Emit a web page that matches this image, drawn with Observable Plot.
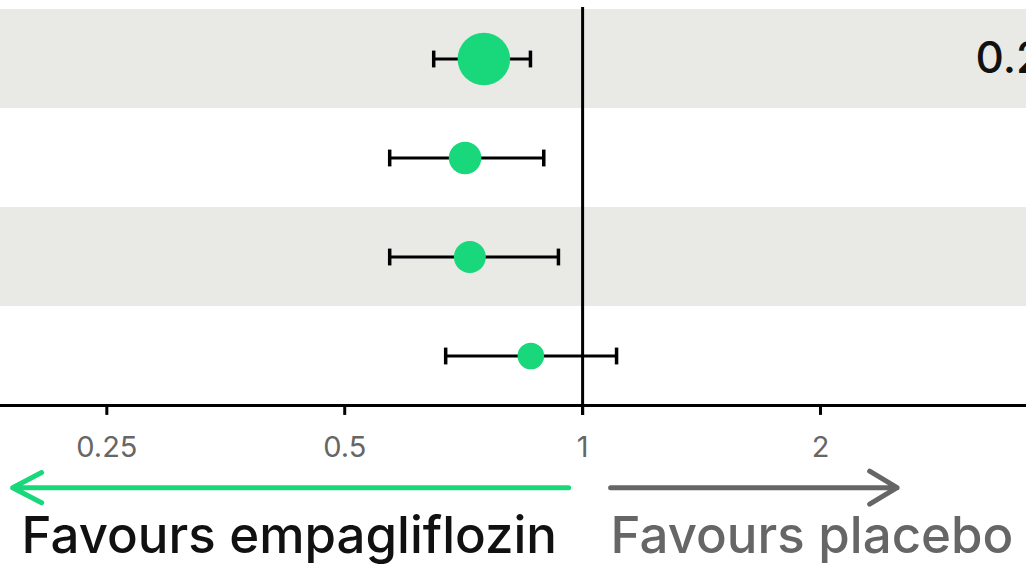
<!DOCTYPE html>
<html>
<head>
<meta charset="utf-8">
<script src="https://cdn.jsdelivr.net/npm/d3@7"></script>
<script src="https://cdn.jsdelivr.net/npm/@observablehq/plot@0.6"></script>
<style>
  html, body { margin: 0; padding: 0; background: #ffffff; }
  #chart svg { display: block; }
</style>
</head>
<body>
<div id="chart"></div>
<script>
// Data (hazard ratios on a log scale)
const rows = [0, 1, 2, 3];
const hr = [0.75, 0.71, 0.72, 0.86];
const lower = [0.648, 0.570, 0.570, 0.671];
const upper = [0.859, 0.893, 0.932, 1.104];
const weight = [49.0, 18.8, 18.1, 12.5];
const rightText = ["0.2", "", "", ""];
const tickValues = [0.25, 0.5, 1, 2];
const tickLabels = ["0.25", "0.5", "1", "2"];
const favourLabels = ["Favours empagliflozin", "Favours placebo"];
const favourColors = ["#111111", "#666666"];

const GREEN = "#18d87b";
const FONT = "Inter, 'Noto Sans', sans-serif";

const data = rows.map((r, i) => ({row: r, hr: hr[i], lo: lower[i], hi: upper[i], w: weight[i], txt: rightText[i]}));
const bands = rows.filter(r => r % 2 === 0);

const chart = Plot.plot({
  width: 1026,
  height: 566,
  marginTop: 9,
  marginBottom: 161,
  marginLeft: 0,
  marginRight: 0,
  style: {fontFamily: FONT, background: "#ffffff", overflow: "hidden"},
  x: {type: "log", domain: [0.1834, 3.645], axis: null},
  y: {type: "linear", domain: [-0.5, 3.5], reverse: true, axis: null},
  r: {type: "sqrt", domain: [0, 49], range: [0, 26.3]},
  marks: [
    Plot.rect(bands, {y1: d => d - 0.5, y2: d => d + 0.5, fill: "#e9e9e5"}),
    Plot.ruleX([1], {y1: -0.52, y2: 3.6, stroke: "#000", strokeWidth: 3}),
    Plot.ruleY([3.5], {stroke: "#000", strokeWidth: 3}),
    Plot.ruleX(tickValues, {x: d => d, y1: 3.5, y2: 3.6, stroke: "#000", strokeWidth: 3}),
    Plot.text(tickValues, {x: d => d, y: 3.5, text: (d, i) => tickLabels[i], dy: 42, fill: "#666", fontSize: 29, lineAnchor: "middle"}),
    // confidence intervals
    Plot.link(data, {x1: "lo", x2: "hi", y1: "row", y2: "row", stroke: "#000", strokeWidth: 3}),
    Plot.link(data, {x1: "lo", x2: "lo", y1: d => d.row - 0.085, y2: d => d.row + 0.085, stroke: "#000", strokeWidth: 3.5}),
    Plot.link(data, {x1: "hi", x2: "hi", y1: d => d.row - 0.085, y2: d => d.row + 0.085, stroke: "#000", strokeWidth: 3.5}),
    Plot.dot(data, {x: "hr", y: "row", r: "w", fill: GREEN, stroke: "none"}),
    Plot.text(data, {y: "row", text: "txt", frameAnchor: "right", textAnchor: "start", dx: -51, fontSize: 44, fontWeight: 500, fill: "#111"}),
    // favour arrows
    Plot.arrow([0], {x1: 0.96, x2: 0.19, y1: 4.33, y2: 4.33, stroke: GREEN, strokeWidth: 5, headAngle: 55, headLength: 9.8}),
    Plot.arrow([0], {x1: 1.085, x2: 2.5, y1: 4.33, y2: 4.33, stroke: "#666", strokeWidth: 5, headAngle: 62, headLength: 9.6}),
    Plot.text([0], {x: 0.195, y: 4.83, text: () => favourLabels[0], textAnchor: "start", fontSize: 51, fontWeight: 500, fill: favourColors[0]}),
    Plot.text([0], {x: 1.085, y: 4.83, text: () => favourLabels[1], textAnchor: "start", fontSize: 51, fontWeight: 500, fill: favourColors[1]})
  ]
});
document.getElementById("chart").appendChild(chart);
</script>
</body>
</html>
